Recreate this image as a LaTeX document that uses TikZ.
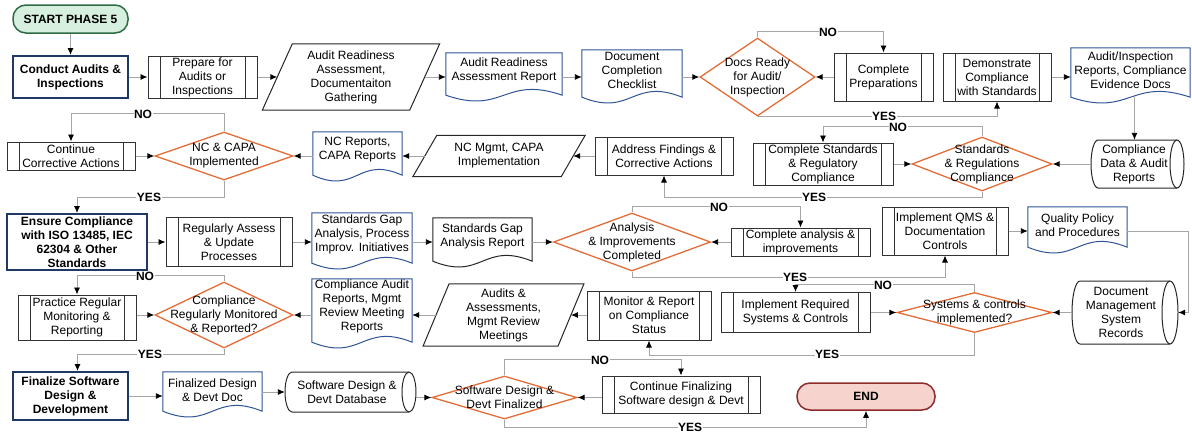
\documentclass[tikz,border=0pt]{standalone}
\usepackage{fontspec}
\setmainfont{Liberation Sans}
\usetikzlibrary{shapes.geometric,shapes.misc,arrows.meta,calc}

\definecolor{navy}{HTML}{1F3864}
\definecolor{docblue}{HTML}{2F5597}
\definecolor{decor}{HTML}{E36C37}
\definecolor{linegray}{HTML}{A6A6A6}
\definecolor{startfill}{HTML}{D6EFDE}
\definecolor{startline}{HTML}{2E6B45}
\definecolor{endfill}{HTML}{F6D3CC}
\definecolor{endline}{HTML}{8E2B2B}

\tikzset{
  txt/.style={font=\fontsize{12}{14}\selectfont, align=center, inner sep=0pt},
  bold/.style={font=\bfseries\fontsize{12}{14}\selectfont, align=center, inner sep=0pt},
  phase/.style={bold, draw=navy, line width=2pt, fill=white},
  term/.style={bold, rounded corners=13pt, line width=1.5pt},
  proc/.style={txt, draw=black!80, line width=1pt, path picture={
      \draw[black!80, line width=1pt]
        ([xshift=12pt]path picture bounding box.north west) -- ([xshift=12pt]path picture bounding box.south west)
        ([xshift=-12pt]path picture bounding box.north east) -- ([xshift=-12pt]path picture bounding box.south east);}},
  dec/.style={diamond, draw=decor, line width=1.3pt, inner sep=0pt},
  storeline/.style={draw=black!85, line width=1pt},
  docline/.style={line width=1pt},
  ioline/.style={draw=black!85, line width=1pt},
  conn/.style={draw=linegray, line width=0.9pt, -{Latex[length=7pt,width=6pt,color=black]}},
  lab/.style={font=\bfseries\fontsize{12}{14}\selectfont, fill=white, inner sep=0.5pt},
}

% document symbol: box with a wavy lower edge and its text lifted a little
\newcommand\docnode[8]{% name, x, y, width, height, border colour, text lift, text
  \node[minimum width=#4pt, minimum height=#5pt, inner sep=0pt] (#1) at (#2,#3) {};
  \draw[docline, draw=#6, fill=white] (#1.south east) -- (#1.north east) -- (#1.north west) -- (#1.south west)
    .. controls +(0.5*#4pt,-20pt) and +(-0.5*#4pt,20pt) .. (#1.south east) -- cycle;
  \node[txt] (#1-t) at ([yshift=#7pt]#1.center) {#8};
}
% data (input/output) symbol: parallelogram around a text box
\newcommand\ionode[7]{% name, x, y, mid width, height, half slant, text
  \node[txt, minimum width=#4pt, minimum height=#5pt] (#1) at (#2,#3) {#7};
  \draw[ioline] ([xshift=#6pt]#1.north west) -- ([xshift=#6pt]#1.north east)
    -- ([xshift=-#6pt]#1.south east) -- ([xshift=-#6pt]#1.south west) -- cycle;
}
% stored data symbol: drum lying on its side, open end on the right
\newcommand\storenode[7]{% name, x, y, width, height, end radius, text
  \node[minimum width=#4pt, minimum height=#5pt, inner sep=0pt] (#1) at (#2,#3) {};
  \pgfmathsetmacro\stoL{#2-#4/2}\pgfmathsetmacro\stoR{#2+#4/2}%
  \pgfmathsetmacro\stoT{#3-#5/2}\pgfmathsetmacro\stoB{#3+#5/2}%
  \pgfmathsetmacro\stoK{0.5523*#6}\pgfmathsetmacro\stoY{0.5523*#5/2}%
  \draw[storeline]
    (\stoL+#6,\stoT) -- (\stoR-#6,\stoT)
    .. controls (\stoR-#6+\stoK,\stoT) and (\stoR,#3-\stoY) .. (\stoR,#3)
    .. controls (\stoR,#3+\stoY) and (\stoR-#6+\stoK,\stoB) .. (\stoR-#6,\stoB)
    -- (\stoL+#6,\stoB)
    .. controls (\stoL+#6-\stoK,\stoB) and (\stoL,#3+\stoY) .. (\stoL,#3)
    .. controls (\stoL,#3-\stoY) and (\stoL+#6-\stoK,\stoT) .. (\stoL+#6,\stoT) -- cycle;
  \draw[storeline]
    (\stoR-#6,\stoT) .. controls (\stoR-#6-\stoK,\stoT) and (\stoR-2*#6,#3-\stoY) .. (\stoR-2*#6,#3)
    .. controls (\stoR-2*#6,#3+\stoY) and (\stoR-#6-\stoK,\stoB) .. (\stoR-#6,\stoB);
  \node[txt] (#1-t) at ([xshift=-#6pt/2]#1.center) {#7};
}

\begin{document}
\begin{tikzpicture}[x=1pt,y=-1pt]
\useasboundingbox (0,0) rectangle (1192,432);

% ---------- row 1 ----------
\node[term, draw=startline, fill=startfill, minimum width=115pt, minimum height=28pt] (start) at (70.5,19) {START PHASE 5};
\node[phase, minimum width=115pt, minimum height=42pt] (conduct) at (70.5,77) {Conduct Audits \&\\Inspections};
\node[proc, minimum width=109pt, minimum height=42pt] (prepare) at (202.5,77) {Prepare for\\Audits or\\Inspections};
\ionode{ara}{351}{77}{147}{66}{15}{Audit Readiness\\Assessment,\\Documentaiton\\Gathering}
\docnode{arar}{504}{74}{116}{42}{docblue}{3.5}{Audit Readiness\\Assessment Report}
\docnode{dcc}{632}{73.5}{100}{47}{docblue}{3.5}{Document\\Completion\\Checklist}
\node[dec, minimum width=115pt, minimum height=78pt] (docs) at (757.5,77) {};
\node[txt] (docs-t) at (docs) {Docs Ready\\for Audit/\\Inspection};
\node[proc, minimum width=99pt, minimum height=48pt] (compprep) at (883.5,77) {Complete\\Preparations};
\node[proc, minimum width=108pt, minimum height=48pt] (demo) at (997,77) {Demonstrate\\Compliance\\with Standards};
\docnode{air}{1130.5}{72.5}{119}{49}{docblue}{2.5}{Audit/Inspection\\Reports, Compliance\\Evidence Docs}

% ---------- row 2 ----------
\storenode{cda}{1137.5}{164}{93}{48}{7}{Compliance\\Data \& Audit\\Reports}
\node[dec, minimum width=140pt, minimum height=54pt] (srd) at (982,164) {};
\node[txt] (srd-t) at (srd) {Standards\\\& Regulations\\Compliance};
\node[proc, minimum width=140pt, minimum height=42pt] (csr) at (823,164) {Complete Standards\\\& Regulatory\\Compliance};
\node[proc, minimum width=138pt, minimum height=38pt] (afc) at (664,156) {Address Findings \&\\Corrective Actions};
\ionode{ncm}{499}{156}{148}{41}{12}{NC Mgmt, CAPA\\Implementation}
\docnode{ncr}{357.5}{153.5}{89}{43}{docblue}{4}{NC Reports,\\CAPA Reports}
\node[dec, minimum width=138pt, minimum height=48pt] (nca) at (224,156) {};
\node[txt] (nca-t) at (nca) {NC \& CAPA\\Implemented};
\node[proc, minimum width=128pt, minimum height=28pt] (cca) at (71,156) {Continue\\Corrective Actions};

% ---------- row 3 ----------
\node[phase, minimum width=140pt, minimum height=56pt] (ensure) at (77,242) {Ensure Compliance\\with ISO 13485, IEC\\62304 \& Other\\Standards};
\node[proc, minimum width=126pt, minimum height=49pt] (ras) at (229,242) {Regularly Assess\\\& Update\\Processes};
\docnode{sga}{362}{238}{100}{50}{docblue}{3.5}{Standards Gap\\Analysis, Process\\Improv. Initiatives}
\docnode{sgr}{482.5}{239.5}{99}{43}{black!85}{3.5}{Standards Gap\\Analysis Report}
\node[dec, minimum width=157pt, minimum height=58pt] (aic) at (632,242) {};
\node[txt] (aic-t) at (aic) {Analysis\\\& Improvements\\Completed};
\node[proc, minimum width=139pt, minimum height=28pt] (cai) at (800.5,242) {Complete analysis \&\\improvements};
\node[proc, minimum width=126pt, minimum height=48pt] (qms) at (945,231) {Implement QMS \&\\Documentation\\Controls};
\docnode{qpp}{1077.5}{227}{99}{40}{docblue}{2}{Quality Policy\\and Procedures}

% ---------- row 4 ----------
\storenode{dms}{1125}{312.5}{106}{63}{8}{Document\\Management\\System\\Records}
\node[dec, minimum width=155pt, minimum height=40pt] (sci) at (974.5,312.5) {};
\node[txt] (sci-t) at (sci) {Systems \& controls\\implemented?};
\node[proc, minimum width=149pt, minimum height=40pt] (irs) at (795.5,312.5) {Implement Required\\Systems \& Controls};
\node[proc, minimum width=124pt, minimum height=49pt] (mrc) at (649,315.5) {Monitor \& Report\\on Compliance\\Status};
\ionode{aam}{503.5}{315}{134.5}{62}{13}{Audits \&\\Assessments,\\Mgmt Review\\Meetings}
\docnode{car}{362}{310.5}{100}{63}{docblue}{4.5}{Compliance Audit\\Reports, Mgmt\\Review Meeting\\Reports}
\node[dec, minimum width=138pt, minimum height=66pt] (crm) at (224,315) {};
\node[txt] (crm-t) at (crm) {Compliance\\Regularly Monitored\\\& Reported?};
\node[proc, minimum width=118pt, minimum height=45pt] (prm) at (77,317.5) {Practice Regular\\Monitoring \&\\Reporting};

% ---------- row 5 ----------
\node[phase, minimum width=115pt, minimum height=48pt] (fin) at (70.5,396) {Finalize Software\\Design \&\\Development};
\docnode{fdd}{212.5}{391.5}{99}{39}{docblue}{1.5}{Finalized Design\\\& Devt Doc}
\storenode{sdd}{350.5}{392}{131}{40}{7}{Software Design \&\\Devt Database}
\node[dec, minimum width=145pt, minimum height=43pt] (sdf) at (504.5,397.5) {};
\node[txt] (sdf-t) at (sdf) {Software Design \&\\Devt Finalized};
\node[proc, minimum width=158pt, minimum height=37pt] (cfs) at (681,394.5) {Continue Finalizing\\Software design \& Devt};
\node[term, draw=endline, fill=endfill, minimum width=138pt, minimum height=27pt] (end) at (866,396.5) {END};

% ---------- connectors ----------
\draw[conn] (start.south) -- (conduct.north);
\draw[conn] (conduct) -- (prepare);
\draw[conn] (prepare) -- (ara);
\draw[conn] (ara) -- (ara.east -| arar.west);
\draw[conn] (arar.east |- ara.east) -- (dcc.west |- ara.east);
\draw[conn] (dcc.east |- docs.west) -- (docs.west);
\draw[conn] (compprep) -- (docs);
\draw[conn] (docs.north) -- ++(0,-6) -| (compprep.north);
\draw[conn] (docs.south) -| (demo.south);
\draw[conn] (demo.east) -- (demo.east -| air.west);
\draw[conn] ([xshift=-3pt]cda.north |- air.south) -- ([xshift=-3pt]cda.north);

\draw[conn] (cda) -- (srd);
\draw[conn] (srd.north) -- ++(0,-10) -| (csr.north);
\draw[conn] (csr) -- (srd);
\draw[conn] (srd.south) -- ++(0,6) -| (afc.south);
\draw[conn] (afc) -- (ncm);
\draw[conn] (ncm) -- (ncm.west -| ncr.east);
\draw[conn] (ncr.west |- nca.east) -- (nca.east);
\draw[conn] (nca.north) -- ++(0,-18) -| (cca.north);
\draw[conn] (cca) -- (nca);
\draw[conn] (nca.south) -- ++(0,17) -| (ensure.north);

\draw[conn] (ensure) -- (ras);
\draw[conn] (ras) -- (ras.east -| sga.west);
\draw[conn] (sga.east |- ras.east) -- (sgr.west |- ras.east);
\draw[conn] (sgr.east |- aic.west) -- (aic.west);
\draw[conn] (cai) -- (aic);
\draw[conn] (aic.north) -- ++(0,-6) -| (cai.north);
\draw[conn] (aic.south) -- ++(0,6) -| (qms.south);
\draw[conn] (qms) -- (qms.east -| qpp.west);
\draw[conn] (qpp.east |- qms.east) -- ++(61,0) |- (dms.east);

\draw[conn] (dms) -- (sci);
\draw[conn] (sci.north) -- ++(0,-7.5) -| (irs.north);
\draw[conn] (irs) -- (sci);
\draw[conn] (sci.south) -- ++(0,22) -| (mrc.south);
\draw[conn] (mrc.west |- aam.east) -- (aam.east);
\draw[conn] (aam) -- (aam.west -| car.east);
\draw[conn] (car.west |- crm.east) -- (crm.east);
\draw[conn] (crm.north) -- ++(0,-6) -| (prm.north);
\draw[conn] (prm.east |- crm.west) -- (crm.west);
\draw[conn] (crm.south) -- ++(0,6) -| ([xshift=7pt]fin.north);

\draw[conn] (fin) -- (fin.east -| fdd.west);
\draw[conn] (fdd.east |- sdd.west) -- (sdd.west);
\draw[conn] (sdd.east |- sdf.west) -- (sdf.west);
\draw[conn] (cfs.west |- sdf.east) -- (sdf.east);
\draw[conn] (sdf.north) -- ++(0,-16) -| (cfs.north);
\draw[conn] (sdf.south) -- ++(0,7.5) -| (end.south);

% ---------- branch labels ----------
\node[lab] (l1) at (828,32) {NO};
\node[lab] (l2) at (884,116) {YES};
\node[lab] (l3) at (898,127) {NO};
\node[lab] (l4) at (814,197) {YES};
\node[lab] (l5) at (143,114) {NO};
\node[lab] (l6) at (149,197) {YES};
\node[lab] (l7) at (719,207) {NO};
\node[lab] (l8) at (795,277) {YES};
\node[lab] (l9) at (883,285) {NO};
\node[lab] (l10) at (827,354) {YES};
\node[lab] (l11) at (145,276) {NO};
\node[lab] (l12) at (150,354) {YES};
\node[lab] (l13) at (600,360) {NO};
\node[lab] (l14) at (690,427) {YES};
\end{tikzpicture}
\end{document}
